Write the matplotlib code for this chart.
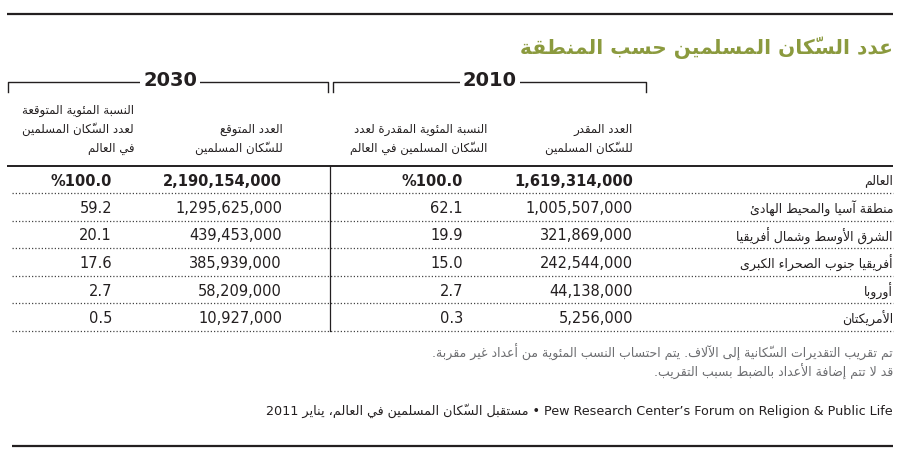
import matplotlib
matplotlib.use("Agg")
import matplotlib.pyplot as plt

# ---------------- data ----------------
title = "عدد السكّان المسلمين حسب المنطقة"
years = ["2010", "2030"]
headers_2010 = ["العدد المقدر\nللسكّان المسلمين",
                "النسبة المئوية المقدرة لعدد\nالسكّان المسلمين في العالم"]
headers_2030 = ["العدد المتوقع\nللسكّان المسلمين",
                "النسبة المئوية المتوقعة\nلعدد السكّان المسلمين\nفي العالم"]
regions = ["العالم", "منطقة آسيا والمحيط الهادئ", "الشرق الأوسط وشمال أفريقيا",
           "أفريقيا جنوب الصحراء الكبرى", "أوروبا", "الأمريكتان"]
pop_2010 = ["1,619,314,000", "1,005,507,000", "321,869,000", "242,544,000", "44,138,000", "5,256,000"]
pct_2010 = ["%100.0", "62.1", "19.9", "15.0", "2.7", "0.3"]
pop_2030 = ["2,190,154,000", "1,295,625,000", "439,453,000", "385,939,000", "58,209,000", "10,927,000"]
pct_2030 = ["%100.0", "59.2", "20.1", "17.6", "2.7", "0.5"]
notes = ["تم تقريب التقديرات السكّانية إلى الآلاف. يتم احتساب النسب المئوية من أعداد غير مقربة.",
         "قد لا تتم إضافة الأعداد بالضبط بسبب التقريب."]
source_ar = "مستقبل السكّان المسلمين في العالم، يناير"
source_year = "2011"
source_en = "Pew Research Center’s Forum on Religion & Public Life"

# ---------------- simple Arabic shaping ----------------
_D = {}  # dual joining: base code of isolated form in Presentation Forms-B
_R = {}  # right joining
for ch, b in [("ئ", 0xFE89), ("ب", 0xFE8F), ("ت", 0xFE95), ("ث", 0xFE99), ("ج", 0xFE9D),
              ("ح", 0xFEA1), ("خ", 0xFEA5), ("س", 0xFEB1), ("ش", 0xFEB5), ("ص", 0xFEB9),
              ("ض", 0xFEBD), ("ط", 0xFEC1), ("ظ", 0xFEC5), ("ع", 0xFEC9), ("غ", 0xFECD),
              ("ف", 0xFED1), ("ق", 0xFED5), ("ك", 0xFED9), ("ل", 0xFEDD), ("م", 0xFEE1),
              ("ن", 0xFEE5), ("ه", 0xFEE9), ("ي", 0xFEF1)]:
    _D[ch] = b
for ch, b in [("آ", 0xFE81), ("أ", 0xFE83), ("ؤ", 0xFE85), ("إ", 0xFE87), ("ا", 0xFE8D),
              ("ة", 0xFE93), ("د", 0xFEA9), ("ذ", 0xFEAB), ("ر", 0xFEAD), ("ز", 0xFEAF),
              ("و", 0xFEED), ("ى", 0xFEEF)]:
    _R[ch] = b
_LAMALEF = {"آ": 0xFEF5, "أ": 0xFEF7, "إ": 0xFEF9, "ا": 0xFEFB}


def _transparent(c):
    return 0x064B <= ord(c) <= 0x065F or ord(c) == 0x0670


def _jt(c):
    if c is None:
        return "U"
    if c in _D:
        return "D"
    if c in _R:
        return "R"
    if _transparent(c):
        return "T"
    return "U"


def shape_line(s):
    chars = list(s)
    n = len(chars)
    out = []  # list of clusters (base, marks)
    i = 0

    def prev_letter(k):
        k -= 1
        while k >= 0 and _transparent(chars[k]):
            k -= 1
        return chars[k] if k >= 0 else None

    def next_idx(k):
        k += 1
        while k < n and _transparent(chars[k]):
            k += 1
        return k

    while i < n:
        c = chars[i]
        if _transparent(c):
            if out:
                out[-1][1].append(c)
            else:
                out.append([c, []])
            i += 1
            continue
        jt = _jt(c)
        if jt in "DR":
            p = prev_letter(i)
            join_prev = _jt(p) == "D"
            j = next_idx(i)
            nx = chars[j] if j < n else None
            if c == "ل" and nx in _LAMALEF:
                base = _LAMALEF[nx]
                g = chr(base + (1 if join_prev else 0))
                marks = [m for m in chars[i + 1:j]]
                out.append([g, marks])
                i = j + 1
                continue
            join_next = jt == "D" and _jt(nx) in ("D", "R")
            base = _D.get(c) or _R.get(c)
            if jt == "D":
                if join_prev and join_next:
                    g = base + 3
                elif join_prev:
                    g = base + 1
                elif join_next:
                    g = base + 2
                else:
                    g = base
            else:
                g = base + 1 if join_prev else base
            out.append([chr(g), []])
        else:
            out.append([c, []])
        i += 1
    out.reverse()
    return "".join(b + "".join(m) for b, m in out)


def ar(s):
    return "\n".join(shape_line(line) for line in s.split("\n"))


# ---------------- figure ----------------
W, H = 898, 453
fig = plt.figure(figsize=(W / 100, H / 100), dpi=100)
ax = fig.add_axes([0, 0, 1, 1])
ax.set_xlim(0, W)
ax.set_ylim(H, 0)
ax.axis("off")

FONT = "DejaVu Sans"
INK = "#231f20"
GRAY = "#6d6e71"
OLIVE = "#8b9a3e"

# rules
ax.plot([7, 893], [14, 14], color=INK, lw=1.6, solid_capstyle="butt")
ax.plot([12, 893], [446, 446], color=INK, lw=1.6, solid_capstyle="butt")
ax.plot([7, 893], [166, 166], color=INK, lw=1.4, solid_capstyle="butt")

# title
ax.text(893, 48, ar(title), ha="right", va="center", fontsize=14.5, fontweight="bold",
        color=OLIVE, family=FONT)

# year brackets
brackets = {"2010": (333, 646, 490), "2030": (8, 328, 170)}
for yr in years:
    x0, x1, xc = brackets[yr]
    ax.plot([x0, x0, x1, x1], [92, 82, 82, 92], color=INK, lw=1.0)
    ax.text(xc, 81, yr, ha="center", va="center", fontsize=14, fontweight="bold",
            color=INK, family=FONT, bbox=dict(facecolor="white", edgecolor="none", pad=2))

# column headers (right edges)
col_hdr_x = [633, 487, 283, 134]
hdrs = headers_2010 + headers_2030
for x, h in zip(col_hdr_x, hdrs):
    ax.text(x, 155, ar(h), ha="right", va="bottom", fontsize=8.5, color=INK,
            family=FONT, linespacing=1.55, multialignment="right")

# rows
row_h = 27.5
first_line = 193
col_num_x = [633, 463, 282, 112]
for r, reg in enumerate(regions):
    yc = first_line - 12 + r * row_h
    ydot = first_line + r * row_h
    bold = "bold" if r == 0 else "normal"
    ax.text(893, yc, ar(reg), ha="right", va="center", fontsize=9, color=INK,
            family=FONT)
    vals = [pop_2010[r], pct_2010[r], pop_2030[r], pct_2030[r]]
    for x, v in zip(col_num_x, vals):
        ax.text(x, yc, v, ha="right", va="center", fontsize=10.5, color=INK,
                family=FONT, fontweight=bold)
    ax.plot([12, 893], [ydot, ydot], color="#444444", lw=0.9, ls=(0, (1, 1.6)))

# vertical separator
ax.plot([330, 330], [166, first_line + (len(regions) - 1) * row_h], color=INK, lw=0.9)

# notes
for k, note in enumerate(notes):
    ax.text(893, 352 + k * 20, ar(note), ha="right", va="center", fontsize=9,
            color=GRAY, family=FONT)

# source line
src = source_year + " " + ar(source_ar) + " • " + source_en
ax.text(893, 411, src, ha="right", va="center", fontsize=9.2, color=INK, family=FONT)

fig.savefig("out.png", dpi=100, facecolor="white")
